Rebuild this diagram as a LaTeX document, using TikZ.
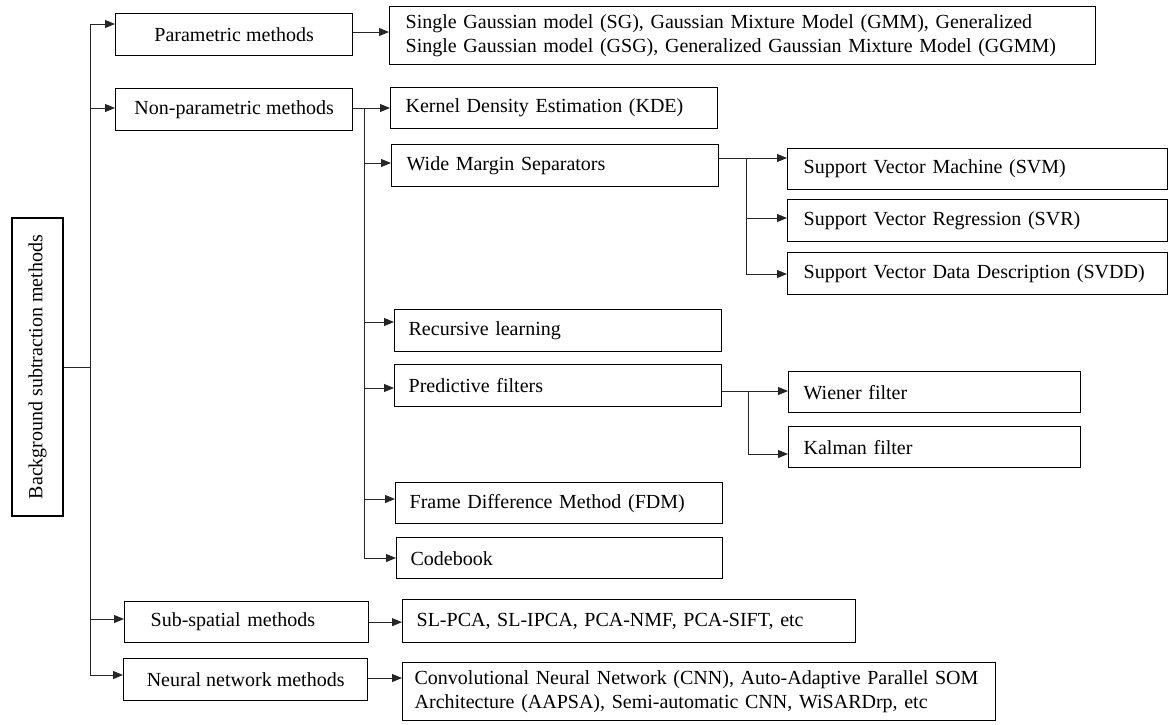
\documentclass[tikz,border=0pt]{standalone}
\usepackage{fontspec}
\setmainfont{Liberation Serif}
\usetikzlibrary{arrows.meta}

\begin{document}
\begin{tikzpicture}[x=1pt,y=1pt,
  every node/.style={font=\fontsize{20}{24}\selectfont},
  box/.style={draw, line width=1.3pt, inner ysep=0pt, anchor=north west},
  cbox/.style 2 args={box, minimum width=#1, minimum height=#2, inner xsep=0pt, align=center},
  lbox/.style n args={3}{box, text width=#1, inner xsep=#2, minimum height=#3, align=left},
  link/.style={line width=0.9pt, draw=black!85},
  arr/.style={link, -{Triangle[length=10pt,width=8pt]}}
]
\useasboundingbox (0,0) rectangle (1169,-724);

% root
\node[draw, line width=1.3pt, rotate=90, minimum width=298, minimum height=51, inner sep=0pt] (root) at (37.5,-367) {Background subtraction methods};

% first level
\node[cbox={237}{42}] (par) at (115,-13) {Parametric methods};
\node[cbox={237}{42}] (np)  at (115,-88) {Non-parametric methods};
\node[lbox={192}{26}{41}] (ss) at (124,-601) {\mbox{Sub-spatial methods}};
\node[cbox={244}{42}] (nn)  at (123,-658) {Neural network methods};

% second level
\node[lbox={674}{16}{58}] (gmm) at (389,-6) {\mbox{Single Gaussian model (SG), Gaussian Mixture Model (GMM), Generalized}\\\mbox{Single Gaussian model (GSG), Generalized Gaussian Mixture Model (GGMM)}};
\node[lbox={297}{15}{41}] (kde) at (390,-87) {\mbox{Kernel Density Estimation (KDE)}};
\node[lbox={297}{15}{42}] (wms) at (391,-144) {\mbox{Wide Margin Separators}};
\node[lbox={299}{14}{42}] (rl)  at (394,-309) {\mbox{Recursive learning}};
\node[lbox={299}{14}{42}] (pf)  at (394,-364) {\mbox{Predictive filters}};
\node[lbox={299}{14}{41}] (fdm) at (395,-482) {\mbox{Frame Difference Method (FDM)}};
\node[lbox={298}{14}{41}] (cb)  at (396,-537) {\mbox{Codebook}};
\node[lbox={425}{14}{43}] (sl)  at (402,-599) {\mbox{SL-PCA, SL-IPCA, PCA-NMF, PCA-SIFT, etc}};
\node[lbox={569}{12}{58}] (cnn) at (402,-662) {\mbox{Convolutional Neural Network (CNN), Auto-Adaptive Parallel SOM}\\\mbox{Architecture (AAPSA), Semi-automatic CNN, WiSARDrp, etc}};

% third level
\node[lbox={348}{16}{41}] (svm)  at (787,-148) {\mbox{Support Vector Machine (SVM)}};
\node[lbox={348}{16}{42}] (svr)  at (787,-199) {\mbox{Support Vector Regression (SVR)}};
\node[lbox={348}{16}{42}] (svdd) at (787,-252) {\mbox{Support Vector Data Description (SVDD)}};
\node[lbox={262}{15}{41}] (wf)   at (788,-371) {\mbox{Wiener filter}};
\node[lbox={262}{15}{41}] (kf)   at (788,-426) {\mbox{Kalman filter}};

% main trunk
\coordinate (t1) at (90,-24);
\coordinate (t2) at (90,-108);
\coordinate (t3) at (90,-619);
\coordinate (t4) at (90,-675);
\coordinate (tr) at (90,-367);
\draw[link] (t1) -- (t4);
\draw[link] (root.south |- tr) -- (tr);
\draw[arr] (t1) -- (t1 -| par.west);
\draw[arr] (t2) -- (t2 -| np.west);
\draw[arr] (t3) -- (t3 -| ss.west);
\draw[arr] (t4) -- (t4 -| nn.west);

% first-level outputs
\coordinate (p1) at (352,-32);
\draw[arr] (par.east |- p1) -- (p1 -| gmm.west);
\draw[arr] (ss.east) -- (ss.east -| sl.west);
\coordinate (n1) at (367,-678);
\draw[arr] (nn.east |- n1) -- (n1 -| cnn.west);

% non-parametric branch
\coordinate (s0) at (364,-108);
\coordinate (s2) at (364,-163);
\coordinate (s3) at (364,-322);
\coordinate (s4) at (364,-388);
\coordinate (s5) at (364,-499);
\coordinate (s6) at (364,-558);
\draw[arr] (np.east |- s0) -- (s0 -| kde.west);
\draw[link] (s0) -- (s6);
\draw[arr] (s2) -- (s2 -| wms.west);
\draw[arr] (s3) -- (s3 -| rl.west);
\draw[arr] (s4) -- (s4 -| pf.west);
\draw[arr] (s5) -- (s5 -| fdm.west);
\draw[arr] (s6) -- (s6 -| cb.west);

% wide margin separators branch
\coordinate (w1) at (746,-158);
\coordinate (w2) at (746,-218);
\coordinate (w3) at (746,-274);
\draw[link] (wms.east |- w1) -- (w1) -- (w3);
\draw[arr] (w1) -- (w1 -| svm.west);
\draw[arr] (w2) -- (w2 -| svr.west);
\draw[arr] (w3) -- (w3 -| svdd.west);

% predictive filters branch
\coordinate (f1) at (748,-391);
\coordinate (f2) at (748,-454);
\draw[link] (pf.east |- f1) -- (f1) -- (f2);
\draw[arr] (f1) -- (f1 -| wf.west);
\draw[arr] (f2) -- (f2 -| kf.west);
\end{tikzpicture}
\end{document}
